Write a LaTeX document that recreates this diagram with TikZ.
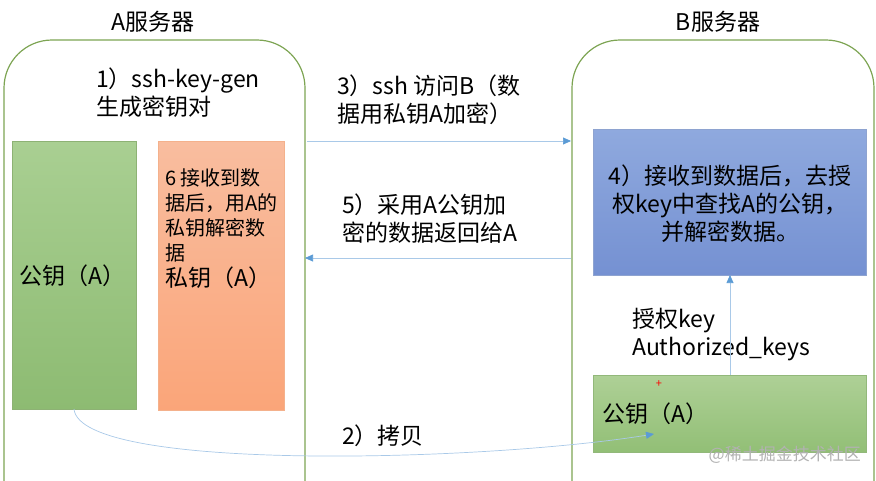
\documentclass[tikz,border=0pt]{standalone}
\usepackage{fontspec}
\setmainfont{Noto Sans CJK SC}
\usetikzlibrary{arrows.meta}
\definecolor{srv}{HTML}{7DA453}
\definecolor{lnk}{HTML}{A9C9E8}
\definecolor{tip}{HTML}{5B9BD5}
\definecolor{gtop}{HTML}{A9CF92}
\definecolor{gbot}{HTML}{8DBB72}
\definecolor{gdraw}{HTML}{8DB274}
\definecolor{otop}{HTML}{F9BD9F}
\definecolor{obot}{HTML}{FAA579}
\definecolor{odraw}{HTML}{F4B18C}
\definecolor{btop}{HTML}{8FA9DE}
\definecolor{bbot}{HTML}{7591D2}
\definecolor{bdraw}{HTML}{8EA3D0}
\definecolor{g2top}{HTML}{AED096}
\definecolor{g2bot}{HTML}{92BF76}
\definecolor{g2draw}{HTML}{92B87A}
\tikzset{
  server/.style={draw=srv, line width=1.2pt, rounded corners=48pt},
  txt/.style={inner sep=0pt, align=left, font=\fontsize{23}{28}\selectfont},
  small/.style={inner sep=0pt, align=left, font=\fontsize{20}{25}\selectfont},
  link/.style={draw=lnk, line width=0.7pt, -{Triangle[length=8pt,width=7pt,color=tip]}},
}
\begin{document}
\begin{tikzpicture}[x=1pt,y=-1pt]
\useasboundingbox (0,0) rectangle (876,480);
\clip (0,0) rectangle (876,480);
% servers
\draw[server] (4,40) rectangle (305,540);
\draw[server] (572,40) rectangle (874,540);
\node[txt, anchor=center] (la) at (153,22) {A服务器};
\node[txt, anchor=center] (lb) at (718,22) {B服务器};
% A side
\shade[top color=gtop, bottom color=gbot, draw=gdraw] (12,141) rectangle (136,409);
\coordinate (pubAbot) at (74,409);
\node[txt, anchor=west] (pubAt) at (19,276) {公钥（A）};
\shade[top color=otop, bottom color=obot, draw=odraw] (158,141) rectangle (284,410);
\node[small, anchor=west] (dec) at (165,215) {6 接收到数\\据后，用A的\\私钥解密数\\据};
\node[txt, anchor=west] (privA) at (165,278) {私钥（A）};
\node[txt, anchor=west] (gen) at (96,93) {1）ssh-key-gen\\生成密钥对};
% B side
\shade[top color=btop, bottom color=bbot, draw=bdraw] (593,129) rectangle (866,275);
\node[txt, align=center, anchor=center] (recv) at (730,204) {4）接收到数据后，去授\\权key中查找A的公钥，\\并解密数据。};
\coordinate (bluebot) at (730,275);
\shade[top color=g2top, bottom color=g2bot, draw=g2draw] (593,375) rectangle (866,452);
\coordinate (pubBtop) at (730,375);
\node[txt, anchor=west] (pubBt) at (602,414) {公钥（A）};
\coordinate (pubBin) at (654,434);
\node[inner sep=0pt, text=red, font=\fontsize{11}{11}\selectfont] (plus) at (659,384) {+};
\node[txt, anchor=west] (auth) at (632,335) {授权key\\Authorized\_keys};
% arrows
\coordinate (a3s) at (307,141);
\coordinate (a3e) at (571,141);
\draw[link] (a3s) -- (a3e);
\node[txt, anchor=west] (t3) at (337,100) {3）ssh 访问B（数\\据用私钥A加密）};
\coordinate (a5s) at (571,258);
\coordinate (a5e) at (305,258);
\draw[link] (a5s) -- (a5e);
\node[txt, anchor=west] (t5) at (342,219) {5）采用A公钥加\\密的数据返回给A};
\draw[link] (pubBtop) -- (bluebot);
\draw[link] (pubAbot) .. controls (80,472) and (480,462) .. (pubBin);
\node[txt, anchor=west] (t2) at (342,436) {2）拷贝};
% watermark
\node[inner sep=0pt, text=black!30, font=\fontsize{17}{17}\selectfont, anchor=east] (wm) at (861,455) {@稀土掘金技术社区};
\end{tikzpicture}
\end{document}
